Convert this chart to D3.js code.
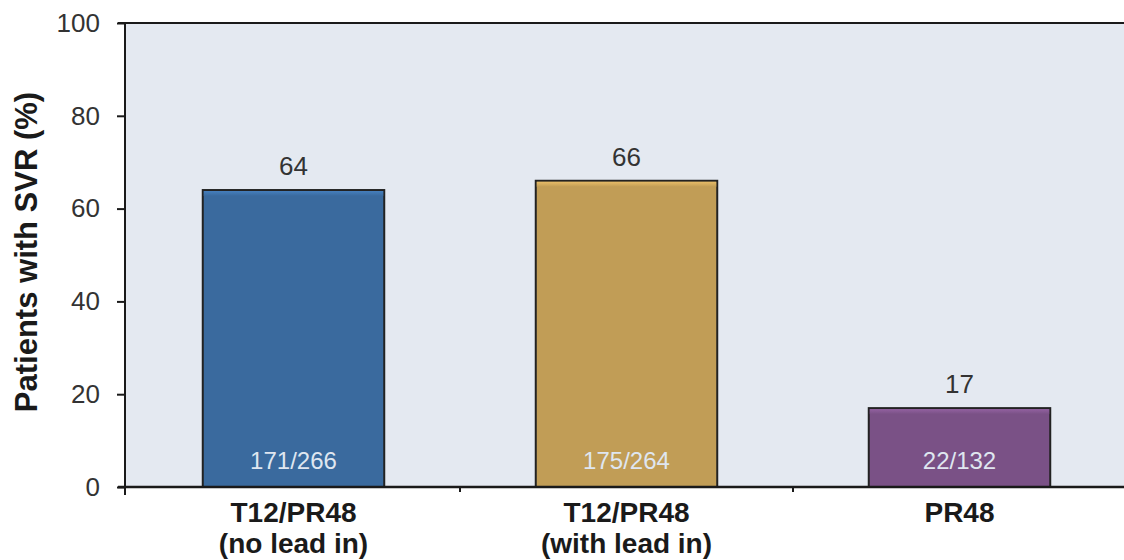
<!DOCTYPE html>
<html>
<head>
<meta charset="utf-8">
<script src="https://cdn.jsdelivr.net/npm/d3@7"></script>
<style>
  body{margin:0;background:#fff;}
  svg{display:block;font-family:"Liberation Sans", Arial, sans-serif;}
  .axis path, .axis line{stroke:#1a1a1a;}
  .axis text{fill:#333;}
</style>
</head>
<body>
<svg id="chart" width="1124" height="560"></svg>
<script>
// data
var groups = ["T12/PR48", "T12/PR48", "PR48"];
var subLabels = ["(no lead in)", "(with lead in)", ""];
var svr = [64, 66, 17];
var counts = ["171/266", "175/264", "22/132"];
var barColors = ["#3a6a9e", "#c19d56", "#7a5186"];
var yTicks = [0, 20, 40, 60, 80, 100];

var svg = d3.select("#chart");
// plot edges (not "top": that is window.top)
var plotL = 125, plotR = 1124, plotT = 23, plotB = 487;

var x = d3.scaleBand()
          .domain(d3.range(groups.length))
          .range([127, 1126])
          .paddingInner(0.455)
          .paddingOuter(0.2275);

var y = d3.scaleLinear()
          .domain([0, 100])
          .range([plotB, plotT]);

// plot background
svg.append("rect")
   .attr("x", plotL)
   .attr("y", plotT)
   .attr("width", plotR - plotL)
   .attr("height", plotB - plotT)
   .attr("fill", "#e4e9f1");

// top frame line
svg.append("line")
   .attr("x1", plotL - 7).attr("x2", plotR)
   .attr("y1", plotT).attr("y2", plotT)
   .attr("stroke", "#1a1a1a").attr("stroke-width", 2);

var defs = svg.append("defs");
barColors.forEach(function(c, i){
	var g = defs.append("linearGradient")
				.attr("id", "shine" + i)
				.attr("x1", 0).attr("x2", 0).attr("y1", 0).attr("y2", 1);
	g.append("stop").attr("offset", 0).attr("stop-color", d3.color(c).brighter(0.5));
	g.append("stop").attr("offset", 1).attr("stop-color", c);
});

var bars = svg.selectAll(".bar")
              .data(svr)
              .enter()
              .append("g")
              .attr("class", "bar");

bars.append("rect")
    .attr("x", function(d, i){ return x(i); })
    .attr("y", function(d){ return y(d); })
    .attr("width", x.bandwidth())
    .attr("height", function(d){ return plotB - y(d); })
    .attr("fill", function(d, i){ return barColors[i]; })
    .attr("stroke", "#222")
    .attr("stroke-width", 2);

// little bevel on top of each bar
bars.append("rect")
    .attr("x", function(d, i){ return x(i) + 1; })
    .attr("y", function(d){ return y(d) + 1; })
    .attr("width", x.bandwidth() - 2)
    .attr("height", 5)
    .attr("fill", function(d, i){ return "url(#shine" + i + ")"; });

bars.append("text")
    .attr("x", function(d, i){ return x(i) + x.bandwidth() / 2; })
    .attr("y", function(d){ return y(d) - 15; })
    .attr("text-anchor", "middle")
    .attr("font-size", 26)
    .attr("fill", "#333")
    .text(function(d){ return d; });

bars.append("text")
    .attr("x", function(d, i){ return x(i) + x.bandwidth() / 2; })
    .attr("y", plotB - 18)
    .attr("text-anchor", "middle")
    .attr("font-size", 24)
    .attr("fill", "#dfe6f0")
    .text(function(d, i){ return counts[i]; });

// y axis
svg.append("g")
   .attr("class", "axis")
   .attr("transform", "translate(" + plotL + ",0)")
   .call(d3.axisLeft(y).tickValues(yTicks).tickSize(8).tickPadding(17).tickSizeOuter(0))
   .call(function(g){
	   g.select(".domain").attr("stroke-width", 2).attr("d", "M0," + plotT + "V" + (plotB + 8));
	   g.selectAll("line").attr("stroke-width", 2);
	   g.selectAll("text").attr("font-size", 26);
   });

// x axis line with ticks between groups
var xAxis = svg.append("g").attr("class", "axis");
xAxis.append("line")
     .attr("x1", plotL - 7).attr("x2", plotR)
     .attr("y1", plotB).attr("y2", plotB)
     .attr("stroke", "#1a1a1a").attr("stroke-width", 2.5);
xAxis.selectAll(".sep")
     .data(d3.range(1, groups.length))
     .enter()
     .append("line")
     .attr("x1", function(d){ return x(d) - x.step() * x.paddingInner() / 2; })
     .attr("x2", function(d){ return x(d) - x.step() * x.paddingInner() / 2; })
     .attr("y1", plotB).attr("y2", plotB + 5)
     .attr("stroke", "#1a1a1a").attr("stroke-width", 2);

var cats = svg.selectAll(".cat")
              .data(groups)
              .enter()
              .append("text")
              .attr("class", "cat")
              .attr("text-anchor", "middle")
              .attr("font-size", 28)
              .attr("font-weight", "bold")
              .attr("fill", "#1a1a1a");
cats.append("tspan")
    .attr("x", function(d, i){ return x(i) + x.bandwidth() / 2; })
    .attr("y", plotB + 35)
    .text(function(d){ return d; });
cats.append("tspan")
    .attr("x", function(d, i){ return x(i) + x.bandwidth() / 2; })
    .attr("y", plotB + 66)
    .text(function(d, i){ return subLabels[i]; });

svg.append("text")
   .attr("transform", "translate(37,252) rotate(-90)")
   .attr("text-anchor", "middle")
   .attr("font-size", 31)
   .attr("font-weight", "bold")
   .attr("fill", "#1a1a1a")
   .text("Patients with SVR (%)");
</script>
</body>
</html>
